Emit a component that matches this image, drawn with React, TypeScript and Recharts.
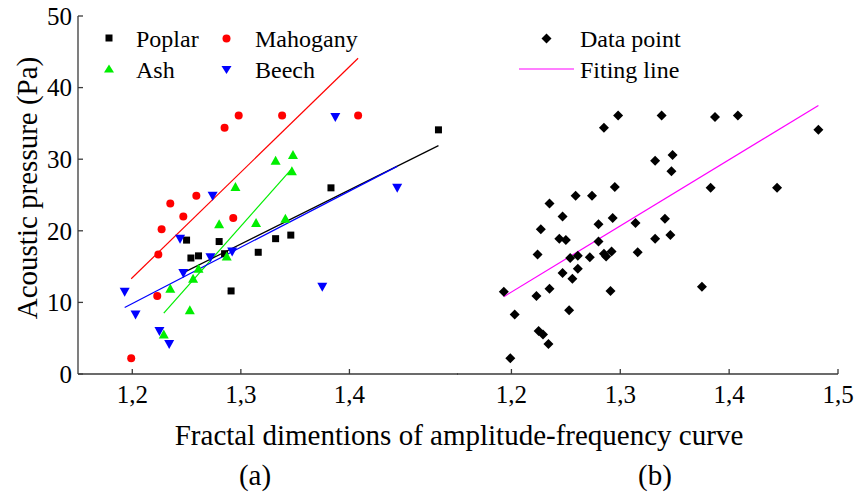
import React from "react";
import { ScatterChart, Scatter, XAxis, YAxis, ReferenceLine } from "recharts";

// values
const poplarX = [1.482, 1.383, 1.25, 1.28, 1.254, 1.261, 1.285, 1.291, 1.316, 1.332, 1.346];
const poplarY = [34.1, 26.0, 18.7, 18.5, 16.2, 16.5, 16.8, 11.6, 17.0, 18.9, 19.4];

const mahoganyX = [1.259, 1.285, 1.298, 1.338, 1.408, 1.235, 1.227, 1.247, 1.293, 1.224, 1.223, 1.199];
const mahoganyY = [24.9, 34.4, 36.1, 36.1, 36.1, 23.8, 20.2, 22.0, 21.8, 16.7, 10.9, 2.2];

const ashX = [1.332, 1.348, 1.347, 1.295, 1.28, 1.314, 1.341, 1.287, 1.261, 1.256, 1.235, 1.253, 1.229];
const ashY = [29.8, 30.6, 28.3, 26.1, 20.9, 21.1, 21.7, 16.4, 14.7, 13.3, 11.9, 8.9, 5.5];

const beechX = [1.274, 1.387, 1.444, 1.244, 1.272, 1.292, 1.247, 1.193, 1.203, 1.375, 1.225, 1.234];
const beechY = [24.9, 35.9, 26.0, 18.9, 16.3, 17.1, 14.1, 11.5, 8.3, 12.2, 6.0, 4.2];

// fitting line end points [x1, y1, x2, y2]
const poplarFit = [1.249, 14.3, 1.482, 31.9];
const mahoganyFit = [1.199, 13.3, 1.408, 44.1];
const ashFit = [1.229, 8.5, 1.346, 28.5];
const beechFit = [1.193, 9.3, 1.444, 29.0];
const allFit = [1.193, 10.8, 1.482, 37.5];

const xDomain = [1.15, 1.5];
const yDomain = [0, 50];
const xTicksA = [1.2, 1.3, 1.4];
const xTicksB = [1.2, 1.3, 1.4, 1.5];
const yTicks = [0, 10, 20, 30, 40, 50];

const toPoints = (xs: number[], ys: number[]) => xs.map((x, i) => ({ x, y: ys[i] }));

const poplar = toPoints(poplarX, poplarY);
const mahogany = toPoints(mahoganyX, mahoganyY);
const ash = toPoints(ashX, ashY);
const beech = toPoints(beechX, beechY);
const allPoints = [...poplar, ...mahogany, ...ash, ...beech];

const FONT = "'Liberation Serif', 'Times New Roman', serif";
const AXIS = "#3a3a3a";
const tickStyle = { fontSize: 25, fill: "#000", fontFamily: FONT };
const fmt = (v: number) => v.toFixed(1).replace(".", ",");

const Square = ({ cx, cy }: any) => <rect x={cx - 3.5} y={cy - 3.5} width={7} height={7} fill="#000" />;
const Dot = ({ cx, cy }: any) => <circle cx={cx} cy={cy} r={4} fill="#ff0000" />;
const TriUp = ({ cx, cy }: any) => (
  <polygon points={`${cx},${cy - 5} ${cx - 5},${cy + 4} ${cx + 5},${cy + 4}`} fill="#00ee00" />
);
const TriDown = ({ cx, cy }: any) => (
  <polygon points={`${cx - 5},${cy - 4} ${cx + 5},${cy - 4} ${cx},${cy + 5}`} fill="#0000ff" />
);
const Diamond = ({ cx, cy }: any) => (
  <polygon points={`${cx},${cy - 5} ${cx + 5},${cy} ${cx},${cy + 5} ${cx - 5},${cy}`} fill="#000" />
);

const fitLine = (f: number[], color: string) => (
  <ReferenceLine
    segment={[
      { x: f[0], y: f[1] },
      { x: f[2], y: f[3] },
    ]}
    stroke={color}
    strokeWidth={1.2}
    ifOverflow="visible"
  />
);

function frameAxes() {
  return [
    <XAxis key="t" xAxisId="t" orientation="top" type="number" domain={xDomain} height={0} tick={false} tickLine={false} stroke={AXIS} strokeWidth={1.3} />,
    <YAxis key="r" yAxisId="r" orientation="right" type="number" domain={yDomain} width={0} tick={false} tickLine={false} stroke={AXIS} strokeWidth={1.3} />,
  ];
}

function PanelA() {
  return (
    <ScatterChart width={460} height={410} margin={{ top: 16, right: 2, bottom: 0, left: 0 }}>
      <XAxis
        dataKey="x"
        type="number"
        domain={xDomain}
        ticks={xTicksA}
        tickFormatter={fmt}
        height={36}
        tickSize={-5}
        tickMargin={16}
        tick={tickStyle}
        stroke={AXIS}
        strokeWidth={1.3}
        allowDataOverflow
      />
      <YAxis
        dataKey="y"
        type="number"
        domain={yDomain}
        ticks={yTicks}
        width={78}
        tickSize={-5}
        tickMargin={11}
        tick={tickStyle}
        stroke={AXIS}
        strokeWidth={1.3}
      />
      {frameAxes()}
      {fitLine(mahoganyFit, "#ff0000")}
      {fitLine(ashFit, "#00ee00")}
      {fitLine(poplarFit, "#000")}
      {fitLine(beechFit, "#0000ff")}
      <Scatter data={poplar} shape={Square} isAnimationActive={false} />
      <Scatter data={mahogany} shape={Dot} isAnimationActive={false} />
      <Scatter data={ash} shape={TriUp} isAnimationActive={false} />
      <Scatter data={beech} shape={TriDown} isAnimationActive={false} />
    </ScatterChart>
  );
}

function PanelB() {
  return (
    <ScatterChart width={398} height={410} margin={{ top: 16, right: 17, bottom: 0, left: 0 }}>
      <XAxis
        dataKey="x"
        type="number"
        domain={xDomain}
        ticks={xTicksB}
        tickFormatter={fmt}
        height={36}
        tickSize={-5}
        tickMargin={16}
        tick={tickStyle}
        stroke={AXIS}
        strokeWidth={1.3}
        interval={0}
      />
      <YAxis dataKey="y" type="number" domain={yDomain} width={0} tick={false} tickLine={false} stroke={AXIS} strokeWidth={1.3} />
      {frameAxes()}
      {fitLine(allFit, "#ff00ff")}
      <Scatter data={allPoints} shape={Diamond} isAnimationActive={false} />
    </ScatterChart>
  );
}

function Overlay() {
  const t = { fontFamily: FONT, fill: "#000" };
  return (
    <svg width={855} height={495} style={{ position: "absolute", left: 0, top: 0, pointerEvents: "none" }}>
      {/* legend (a) */}
      <rect x={105.5} y={34.5} width={7} height={7} fill="#000" />
      <text x={136} y={46.5} fontSize={24} {...t}>Poplar</text>
      <circle cx={226.5} cy={38.5} r={4} fill="#ff0000" />
      <text x={255} y={46.5} fontSize={24} {...t}>Mahogany</text>
      <polygon points="109,64.5 104,72.5 114,72.5" fill="#00ee00" />
      <text x={136} y={78} fontSize={24} {...t}>Ash</text>
      <polygon points="221.5,66 231.5,66 226.5,74" fill="#0000ff" />
      <text x={255} y={78} fontSize={24} {...t}>Beech</text>
      {/* legend (b) */}
      <polygon points="546.5,33.5 551.5,38.5 546.5,43.5 541.5,38.5" fill="#000" />
      <text x={580} y={46.5} fontSize={24} {...t}>Data point</text>
      <line x1={519} y1={69} x2={574} y2={69} stroke="#ff00ff" strokeWidth={1.2} />
      <text x={580} y={78} fontSize={24} {...t}>Fiting line</text>
      {/* axis titles */}
      <text x={27} y={188} fontSize={29} textAnchor="middle" dominantBaseline="central" transform="rotate(-90 27 188)" {...t}>
        Acoustic pressure (Pa)
      </text>
      <text x={459} y={445} fontSize={29} textAnchor="middle" {...t}>
        Fractal dimentions of amplitude-frequency curve
      </text>
      <text x={255} y={485} fontSize={29} textAnchor="middle" {...t}>(a)</text>
      <text x={655} y={485} fontSize={29} textAnchor="middle" {...t}>(b)</text>
    </svg>
  );
}

export default function App() {
  return (
    <div style={{ position: "absolute", left: 0, top: 0, width: 855, height: 495, background: "#fff", overflow: "hidden" }}>
      <div style={{ position: "absolute", left: 0, top: 0 }}>
        <PanelA />
      </div>
      <div style={{ position: "absolute", left: 457, top: 0 }}>
        <PanelB />
      </div>
      <Overlay />
    </div>
  );
}
